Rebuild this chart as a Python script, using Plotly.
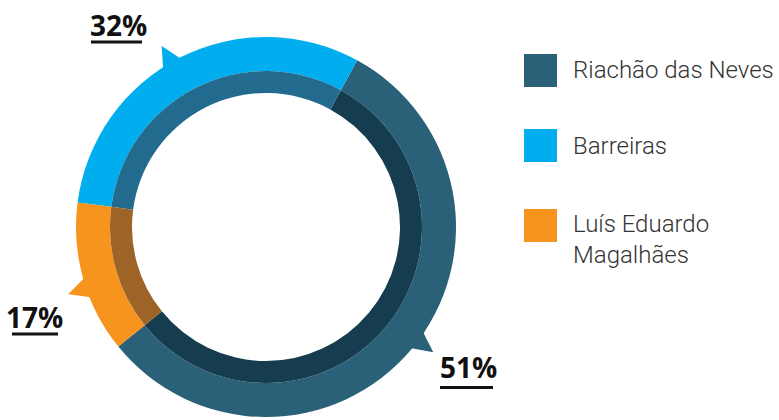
import math
import plotly.graph_objects as go

# ---- data ----
municipios = ["Riachão das Neves", "Barreiras", "Luís Eduardo Magalhães"]
legend_labels = ["Riachão das Neves", "Barreiras", "Luís Eduardo<br>Magalhães"]
percent_values = [51, 32, 17]              # printed percentages
arc_shares = [56.2, 30.9, 12.9]            # angular share of each ring slice as drawn
outer_colors = ["#2b6079", "#00aeef", "#f7941e"]
inner_colors = ["#153d4f", "#226b8e", "#9e6427"]

W, H = 779, 420
CX, CY = 266, 227
R_OUT, R_MID, R_IN = 190, 156, 134
START_ANGLE = 231  # Riachão begins here (deg clockwise from 12 o'clock); slices run counterclockwise
TOTAL = sum(arc_shares)
ROTATION = START_ANGLE - arc_shares[0] / TOTAL * 360


def px(x):
    return x / W


def py(y):
    return 1 - y / H


def domain(r):
    return dict(x=[px(CX - r), px(CX + r)], y=[py(CY + r), py(CY - r)])


fig = go.Figure()
fig.add_trace(go.Pie(
    labels=municipios, values=arc_shares, sort=False, direction="counterclockwise",
    rotation=ROTATION, hole=R_MID / R_OUT, domain=domain(R_OUT),
    marker=dict(colors=outer_colors, line=dict(width=0)),
    textinfo="none", hoverinfo="label", showlegend=False,
))
fig.add_trace(go.Pie(
    labels=municipios, values=arc_shares, sort=False, direction="counterclockwise",
    rotation=ROTATION, hole=R_IN / R_MID, domain=domain(R_MID),
    marker=dict(colors=inner_colors, line=dict(width=0)),
    textinfo="none", hoverinfo="label", showlegend=False,
))

shapes = []
annotations = []


def pt(angle_deg, r):
    a = math.radians(angle_deg)
    return CX + r * math.sin(a), CY - r * math.cos(a)


# notches (speech-bubble tails) near each slice's middle
start = START_ANGLE
mids = []
for share in arc_shares:
    span = share / TOTAL * 360
    mids.append(start - span / 2 - 3)
    start -= span
for mid, col in zip(mids, outer_colors):
    b1 = pt(mid - 3.4, R_OUT - 3)
    b2 = pt(mid + 3.4, R_OUT - 3)
    tip = pt(mid, R_OUT + 19)
    path = "M {} {} L {} {} L {} {} Z".format(px(b1[0]), py(b1[1]), px(tip[0]), py(tip[1]),
                                            px(b2[0]), py(b2[1]))
    shapes.append(dict(type="path", path=path, xref="paper", yref="paper",
                       fillcolor=col, line=dict(width=0), layer="below"))

# percentage labels with underlines
label_pos = {  # x centre, digit centre y, underline y, underline x-range
    "Riachão das Neves": (468, 367, 387.5, 440, 493),
    "Barreiras": (118, 25, 42, 91, 142),
    "Luís Eduardo Magalhães": (34, 317, 334, 12, 58),
}
for name, val in zip(municipios, percent_values):
    xc, yc, yu, x0, x1 = label_pos[name]
    annotations.append(dict(x=px(xc), y=py(yc), xref="paper", yref="paper",
                            text=f"<b>{val}%</b>", showarrow=False,
                            xanchor="center", yanchor="middle",
                            font=dict(family="Open Sans", size=28, color="#111111")))
    shapes.append(dict(type="line", xref="paper", yref="paper",
                       x0=px(x0), x1=px(x1), y0=py(yu), y1=py(yu),
                       line=dict(color="#111111", width=3)))

# legend
legend_y = [70.5, 145.5, 225.5]
for lab, col, yy in zip(legend_labels, outer_colors, legend_y):
    sq_top = yy - 16.5 if "<br>" not in lab else 209
    shapes.append(dict(type="rect", xref="paper", yref="paper",
                       x0=px(524), x1=px(557), y0=py(sq_top + 33), y1=py(sq_top),
                       fillcolor=col, line=dict(width=0)))
    ty = yy if "<br>" not in lab else 239
    annotations.append(dict(x=px(571), y=py(ty), xref="paper", yref="paper",
                            text=lab, showarrow=False, xanchor="left", yanchor="middle",
                            align="left",
                            font=dict(family="Roboto", size=24, color="#333333", weight=300)))

fig.update_layout(
    width=W, height=H, margin=dict(l=0, r=0, t=0, b=0),
    paper_bgcolor="white", plot_bgcolor="white",
    shapes=shapes, annotations=annotations, showlegend=False,
)
fig.write_html("out.html", config={"displayModeBar": False},
               post_script="document.body.style.margin='0';document.body.style.overflow='hidden';")
